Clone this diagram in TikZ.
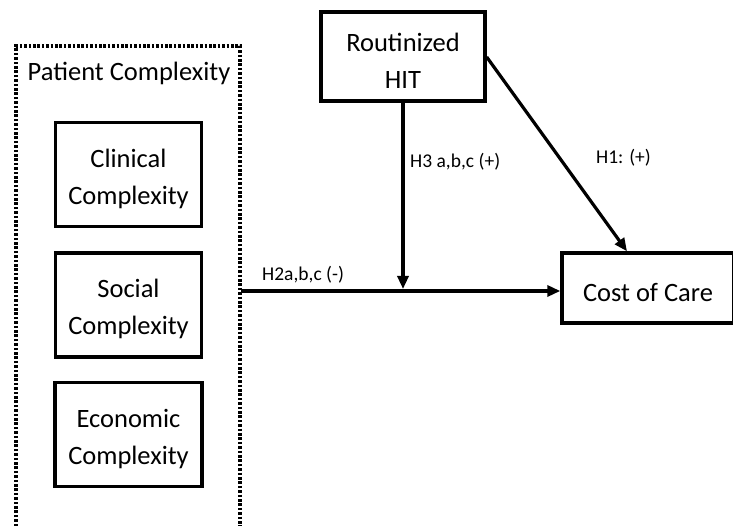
\documentclass[tikz,border=0pt]{standalone}
\usepackage{fontspec}
\setmainfont{Carlito}
\usetikzlibrary{arrows.meta}
\newcommand\mystrut{\rule{0pt}{27pt}}
\begin{document}
\begin{tikzpicture}[x=1pt,y=-1pt,
  box/.style={draw,line width=3.4pt,inner sep=0pt,align=center,font=\fontsize{26.5}{37}\selectfont},
  lab/.style={font=\fontsize{19.5}{22}\selectfont,inner sep=0pt},
  arr/.style={line width=3.2pt,-{Triangle[length=13pt,width=11pt]}}]
\useasboundingbox (0,0) rectangle (733,526);
\draw[line width=3.6pt,dash pattern=on 2.6pt off 1.8pt] (16,535) -- (16,46) -- (240,46) -- (240,535);
\node[font=\fontsize{26.5}{30}\selectfont] (pc) at (129,73.5) {Patient Complexity};
\node[box,minimum width=146pt,minimum height=104pt] (cl) at (128.5,174.5) {\mystrut Clinical\\Complexity};
\node[box,minimum width=146pt,minimum height=104pt] (so) at (128.5,305) {\mystrut Social\\Complexity};
\node[box,minimum width=147pt,minimum height=104pt] (ec) at (128.5,434.5) {\mystrut Economic\\Complexity};
\node[box,minimum width=164pt,minimum height=89pt] (hit) at (403,56.5) {\mystrut Routinized\\HIT};
\node[box,minimum width=172pt,minimum height=70pt] (cost) at (648,288) {\mystrut Cost of Care};
\coordinate (src) at (241,291);
\coordinate (mid) at (403,289);
\draw[arr] (src) -- (cost.west |- src);
\draw[arr] (hit.south -| mid) -- (mid);
\draw[arr] (hit.east |- 0,57) -- (cost.north -| 627,0);
\node[lab,anchor=west] (h3) at (410,162) {H3 a,b,c (+)};
\node[lab,anchor=west] (h1) at (596,158) {H1: (+)};
\node[lab,anchor=west] (h2) at (262,275) {H2a,b,c (-)};
\end{tikzpicture}
\end{document}
